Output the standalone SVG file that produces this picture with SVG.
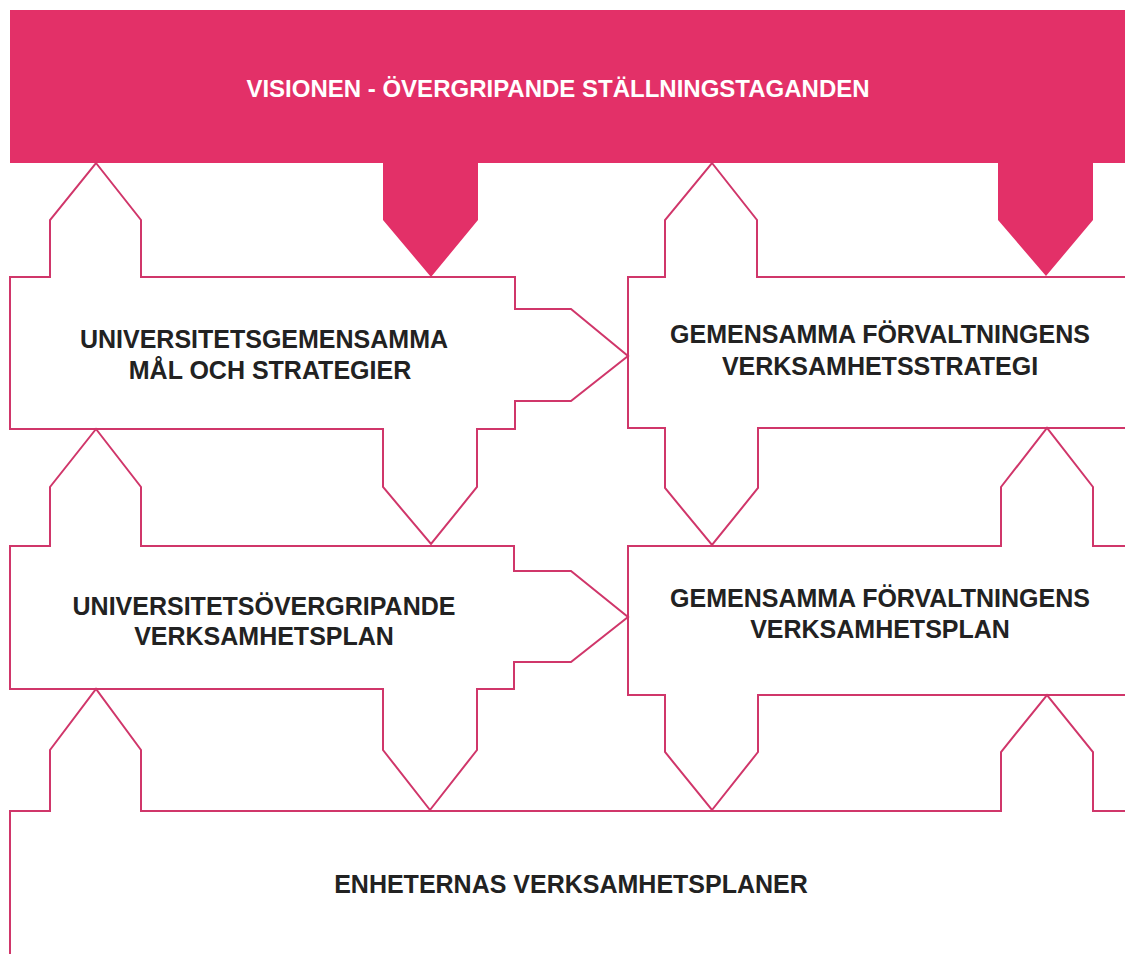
<svg xmlns="http://www.w3.org/2000/svg" width="1125" height="954" viewBox="0 0 1125 954">
<style>
.band{fill:#e33068;}
.box{fill:none;stroke:#d0366a;stroke-width:2;stroke-linejoin:miter;}
.t{font-family:"Liberation Sans",Arial,sans-serif;font-weight:bold;font-size:25px;fill:#222222;text-anchor:middle;}
.tw{font-family:"Liberation Sans",Arial,sans-serif;font-weight:bold;font-size:24px;fill:#ffffff;text-anchor:middle;}
</style>
<rect width="1125" height="954" fill="#ffffff"/>
<g id="vision">
<path class="band" d="M10,10 H1125 V163 H1093 V220 L1046,276 L998,220 V163 H478 V220 L431,277 L383,220 V163 H10 Z"/>
<text class="tw" x="558" y="97">VISIONEN - ÖVERGRIPANDE STÄLLNINGSTAGANDEN</text>
</g>
<g id="connectors"></g>
<g id="univ-mal">
<path class="box" d="M10,277 H50 V220 L96,163 L141,220 V277 H515 V309 H571 L628,356 L571,401 H515 V429 H477 V487 L431,544 L383,487 V429 H10 Z"/>
<text class="t" x="264" y="348">UNIVERSITETSGEMENSAMMA</text>
<text class="t" x="270" y="379">MÅL OCH STRATEGIER</text>
</g>
<g id="gf-strategi">
<path class="box" d="M1125,277 H757 V220 L712,163 L665,220 V277 H628 V428 H665 V488 L712,545 L758,488 V428 H1125"/>
<text class="t" x="880" y="343">GEMENSAMMA FÖRVALTNINGENS</text>
<text class="t" x="880" y="375">VERKSAMHETSSTRATEGI</text>
</g>
<g id="univ-plan">
<path class="box" d="M10,546 H50 V487 L96,429 L141,487 V546 H514 V571 H571 L628,617 L571,662 H514 V689 H477 V750 L430,810 L383,750 V689 H10 Z"/>
<text class="t" x="264" y="615">UNIVERSITETSÖVERGRIPANDE</text>
<text class="t" x="264" y="645">VERKSAMHETSPLAN</text>
</g>
<g id="gf-plan">
<path class="box" d="M1125,546 H1093 V487 L1047,428 L1001,487 V546 H628 V695 H665 V752 L712,810 L758,752 V695 H1125"/>
<text class="t" x="880" y="607">GEMENSAMMA FÖRVALTNINGENS</text>
<text class="t" x="880" y="638">VERKSAMHETSPLAN</text>
</g>
<g id="enheter">
<path class="box" d="M10,954 V811 H50 V750 L96,689 L141,750 V811 H1001 V752 L1047,695 L1093,752 V811 H1125"/>
<text class="t" x="571" y="893">ENHETERNAS VERKSAMHETSPLANER</text>
</g>
</svg>
